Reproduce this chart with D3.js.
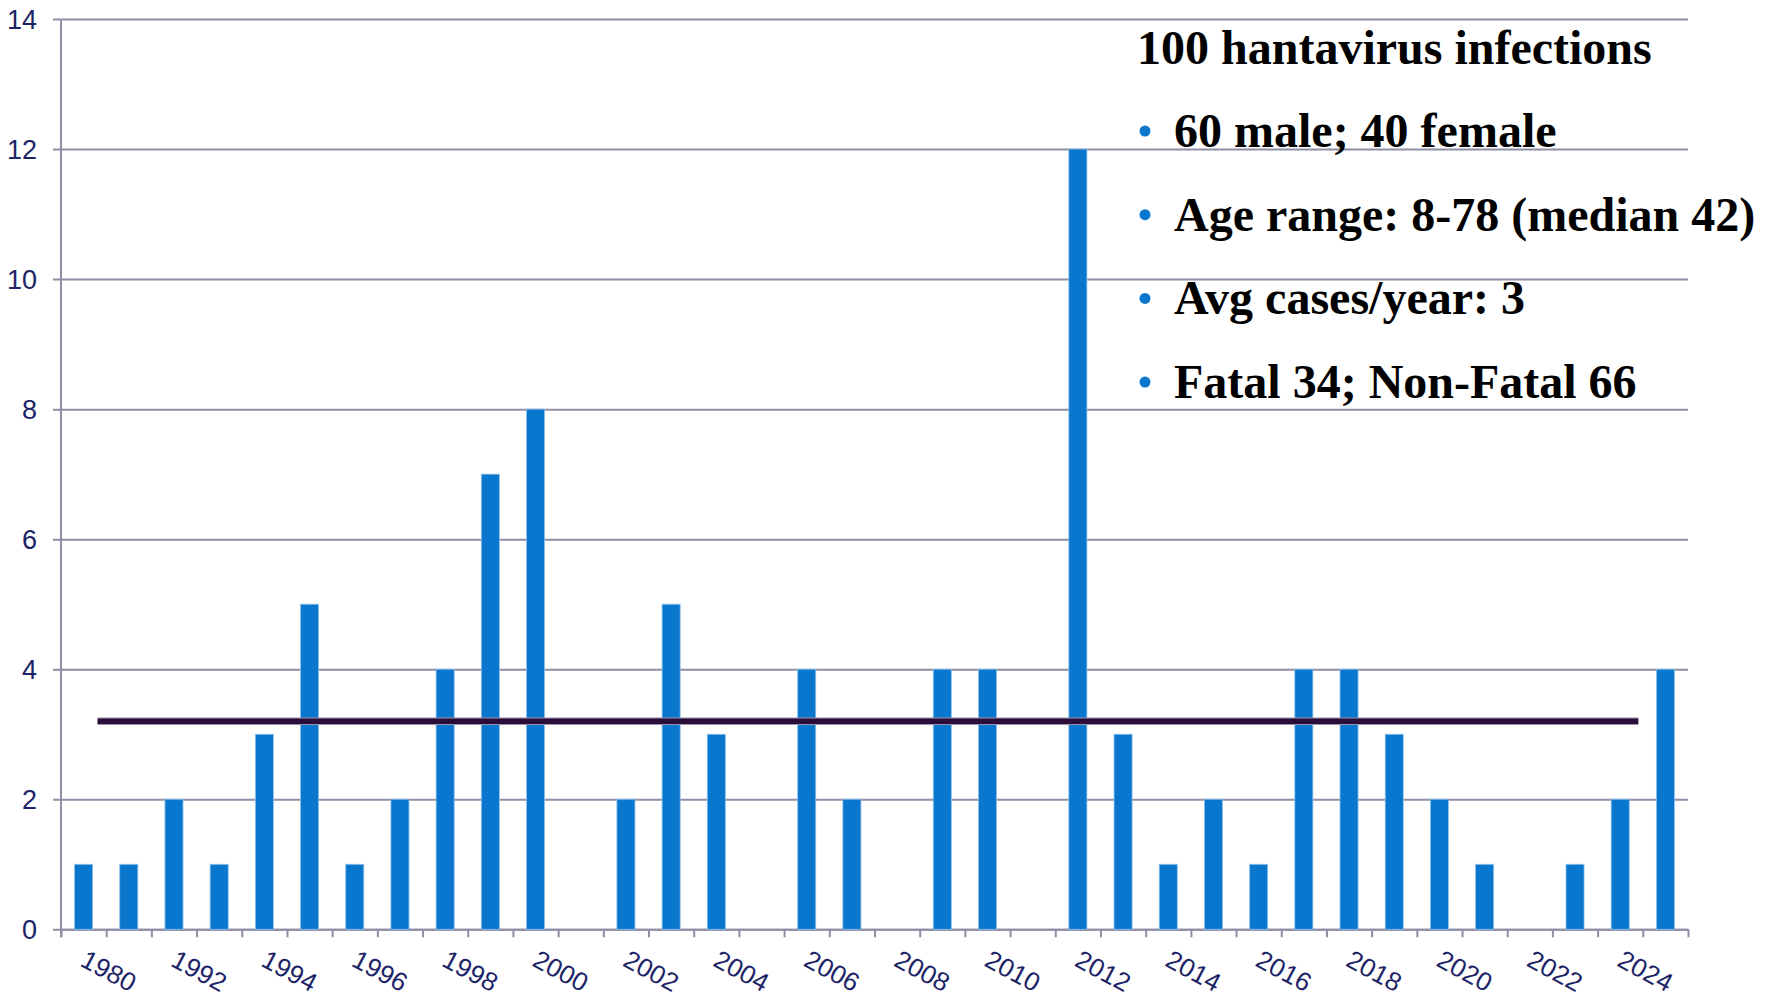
<!DOCTYPE html>
<html>
<head>
<meta charset="utf-8">
<script src="https://cdn.jsdelivr.net/npm/d3@7"></script>
<style>
  html, body { margin: 0; padding: 0; background: #fff; }
  svg { display: block; }
  .tick-lbl { font-family: "Liberation Sans", Arial, sans-serif; font-size: 27px; fill: #1c2467; }
  .x-lbl { font-size: 26px; }
  .note { font-family: "Liberation Serif", "Times New Roman", serif; font-weight: bold; font-size: 48px; fill: #000; }
</style>
</head>
<body>
<svg width="1773" height="996"></svg>
<script>
// categories (one per bar), only every other one gets a label
years = ["1980", "1991"];
for (y = 1992; y <= 2025; y++) years.push(String(y));

cases = [1, 1, 2, 1, 3, 5, 1, 2, 4, 7, 8, 0, 2, 5, 3, 0, 4, 2, 0, 4, 4, 0, 12, 3, 1, 2, 1, 4, 4, 3, 2, 1, 0, 1, 2, 4];

yTicks = [0, 2, 4, 6, 8, 10, 12, 14];

// average line (value + span in category units)
avgValue = 3.2;
avgSpan = [0.81, 34.9];

noteTitle = "100 hantavirus infections";
noteBullets = ["60 male; 40 female", "Age range: 8-78 (median 42)", "Avg cases/year: 3", "Fatal 34; Non-Fatal 66"];

svg = d3.select('svg');

left = 61;
right = 1688;
top_ = 19;
bottom = 929.3;
gridColor = '#8e8ea6';
barColor = '#0a77cf';

xScale = d3.scaleBand()
    .domain(years)
    .range([left, right])
    .paddingInner(0.6)
    .paddingOuter(0.3);

xIdx = d3.scaleLinear()
    .domain([0, years.length])
    .range([left, right]);

yScale = d3.scaleLinear()
    .domain([0, 14])
    .range([bottom, top_]);

// horizontal grid lines (with outward tick)
svg.append('g')
    .attr('transform', `translate(${left}, 0)`)
    .call(d3.axisLeft(yScale)
        .tickValues(yTicks)
        .tickSize(-(right - left))
        .tickFormat(''))
    .call(g => g.select('.domain').remove())
    .call(g => g.selectAll('line')
        .attr('x1', -8)
        .attr('stroke', gridColor)
        .attr('stroke-width', 2));

// y labels
svg.append('g')
    .selectAll('text')
    .data(yTicks)
    .enter()
    .append('text')
    .attr('class', 'tick-lbl')
    .attr('x', 37)
    .attr('y', (d) => yScale(d))
    .attr('dy', '0.36em')
    .attr('text-anchor', 'end')
    .text((d) => d);

// vertical axis line
svg.append('line')
    .attr('x1', left).attr('x2', left)
    .attr('y1', top_).attr('y2', bottom + 8)
    .attr('stroke', gridColor)
    .attr('stroke-width', 2);

// x axis with ticks at category boundaries
svg.append('g')
    .attr('transform', `translate(0, ${bottom})`)
    .call(d3.axisBottom(xIdx)
        .tickValues(d3.range(years.length + 1))
        .tickSize(8)
        .tickSizeOuter(0)
        .tickFormat(''))
    .call(g => g.select('.domain').attr('stroke', gridColor).attr('stroke-width', 2))
    .call(g => g.selectAll('line').attr('stroke', gridColor).attr('stroke-width', 2));

// bars
svg.append('g')
    .selectAll('rect')
    .data(years.map((y, i) => ({ year: y, v: cases[i] })).filter((d) => d.v > 0))
    .enter()
    .append('rect')
    .attr('x', (d) => xScale(d.year))
    .attr('y', (d) => yScale(d.v))
    .attr('width', xScale.bandwidth())
    .attr('height', (d) => bottom - yScale(d.v))
    .attr('fill', barColor)
    .attr('stroke', '#8fc2ec')
    .attr('stroke-width', 0.8);

// rotated x labels, every other category
svg.append('g')
    .selectAll('text')
    .data(years.filter((y, i) => i % 2 == 0))
    .enter()
    .append('text')
    .attr('class', 'tick-lbl x-lbl')
    .attr('transform', (d) => `translate(${xScale(d) + xScale.bandwidth() / 2 + 4}, ${bottom + 20}) rotate(28)`)
    .attr('dy', '0.7em')
    .attr('text-anchor', 'start')
    .text((d) => d);

// average line
svg.append('line')
    .attr('x1', xIdx(avgSpan[0])).attr('x2', xIdx(avgSpan[1]))
    .attr('y1', yScale(avgValue)).attr('y2', yScale(avgValue))
    .attr('stroke', '#9a93ad')
    .attr('stroke-width', 7.5);
svg.append('line')
    .attr('x1', xIdx(avgSpan[0])).attr('x2', xIdx(avgSpan[1]))
    .attr('y1', yScale(avgValue)).attr('y2', yScale(avgValue))
    .attr('stroke', '#2a0d38')
    .attr('stroke-width', 5.5);

// note text
note = svg.append('g');
note.append('text')
    .attr('class', 'note')
    .attr('x', 1137)
    .attr('y', 64)
    .text(noteTitle);

rows = note.selectAll('g.row')
    .data(noteBullets)
    .enter()
    .append('g')
    .attr('class', 'row')
    .attr('transform', (d, i) => `translate(0, ${147 + i * 83.7})`);

rows.append('circle')
    .attr('cx', 1145)
    .attr('cy', -16)
    .attr('r', 5.5)
    .attr('fill', barColor);

rows.append('text')
    .attr('class', 'note')
    .attr('x', 1174)
    .attr('y', 0)
    .text((d) => d);
</script>
</body>
</html>
